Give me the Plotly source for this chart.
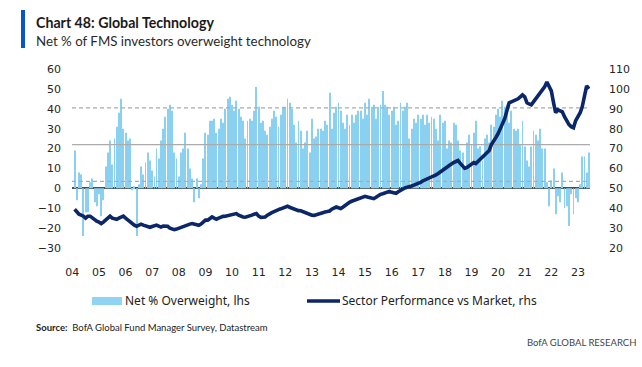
import plotly.graph_objects as go
import pandas as pd

# ---------------- data ----------------
start_month = "2004-02-01"

net_overweight = [
    19, -6, 8, 7, -24, -12, -12, 3, 5, -7, -9, -3,
    -14, -6, 11, 18, 24, 12, 25, 31, 38, 45, 30, 28,
    24, 25, -1, 1, -24, 2, 11, 7, 13, 18, 14, 9,
    6, 20, 15, 24, 30, 36, 40, 42, 39, 18, 15, 6,
    18, 20, 28, 20, 10, 5, -7, 5, -5, 2,
    15, 28, 27, 34, 34, 35, 28, 30, 35, 33,
    40, 45, 46, 42, 39, 44, 40, 36, 34, 25,
    34, 35, 34, 39, 51, 41, 33, 34, 29, 27,
    31, 35, 39, 36, 31, 37, 41, 41, 45, 43,
    40, 32, 23, 34, 29, 20, 23, 29, 18, 35,
    25, 26, 30, 30, 29, 34, 32,
    48, 30, 38, 41, 43, 39, 33, 30, 37, 32,
    37, 33, 37, 39, 39, 35, 43, 37, 45, 41,
    42, 35, 41, 42, 49, 42, 41, 37, 39, 41,
    32, 34, 43, 39, 41, 43, 25, 30, 35, 33,
    37, 35, 37, 32, 37, 33, 36, 35, 30, 24,
    37, 33, 34, 20, 24, 23, 33, 32,
    24, 19, 18, 9, 23, 27, 22, 28, 34, 20,
    21, 14, 25, 27, 23, 32, 31, 37, 40, 36,
    44, 41, 42, 33, 39, 30, 29, 30, 22, 34,
    21, 14, 11, 21, 29, 27, 24, 30, 20, 20,
    3,
    -9, 4, 10, -13, -4, -7, 8, -10, -9, -19,
    -3, -13, -5, -7, 2, 16, 16, 8, 18,
]

sector_perf = [
    39.5, 38, 37, 36.5, 36, 35, 36, 36, 35, 34.3, 33.5, 33,
    32.3, 33, 34, 35, 36, 35, 34.5, 34.4, 35, 35.5, 36, 35,
    34, 33.5, 32.5, 31.5, 30.9, 31.5, 32, 31.5, 31, 30.5, 30.4, 30.8,
    31, 31.5, 31, 30.5, 31, 31, 30.9, 30, 29.5, 29.2, 29.5, 30,
    30.5, 30.5, 31, 31.5, 32, 32.3, 32, 31.5, 31.4, 32, 33, 34,
    34, 35, 35.6, 35, 34.5, 35, 35.5, 35.9, 36, 36.2, 36.4, 36.8,
    37, 37.3, 36.5, 36, 35.6, 35.5, 35.8, 35.9, 36.5, 37, 37.3, 36,
    35.4, 35.5, 35.6, 36.5, 37.3, 37.8, 38.3, 39, 39.3, 39.7, 40.1, 40.5,
    41, 40.5, 40, 39.4, 39, 38.8, 38.7, 38.2, 37.8, 37.3, 37, 36.5,
    36.4, 36.8, 37.2, 37.6, 37.8, 38.1, 38.3, 38.6, 39.5, 40.2, 40.6, 40.2,
    39.8, 40.5, 41.5, 42.3, 43, 43.5, 44, 44.5, 44.8, 45.3, 45.8, 46,
    45.7, 45.4, 45, 44.8, 45.5, 46.5, 47, 47.3, 47.8, 48.2, 48.5, 48,
    47.5, 47.5, 48.3, 49, 49.8, 50.2, 50.5, 50.7, 51.2, 51.6, 52, 52.4,
    53, 53.7, 54.2, 54.4, 55, 55.6, 56, 56.8, 57.5, 58.2, 59, 60,
    60.7, 61.5, 62.4, 63, 63.5, 64, 62.5, 61, 60, 60.5, 61.5, 62.5,
    63, 62.5, 63.5, 64.5, 65.5, 66.5, 67.5, 69, 72, 73.5, 75.5, 77.5,
    80, 82.5, 85, 89, 93, 93.5, 94, 94.5, 95, 96, 97, 96,
    93, 92.5, 92, 93.5, 95, 96.5, 98, 99, 101, 103.5, 101, 99,
    93, 88, 89.5, 89, 88.5, 86, 84, 82, 81, 80.5, 84, 86,
    88, 91, 96, 101.5, 100,
]

ref_levels_lhs = [40.5, 22.0, 3.5]
ref_styles = ["dash", "solid", "dash"]
lhs_range = [-30, 60]
rhs_range = [20, 110]
x_range = ["2003-12-27", "2023-06-16"]
year_ticks = [f"{y}-01-01" for y in range(2004, 2024)]

series_names = ["Net % Overweight, lhs", "Sector Performance vs Market, rhs"]
title_text = "Chart 48: Global Technology"
subtitle_text = "Net % of FMS investors overweight technology"
source_text = "<b>Source:</b>  BofA Global Fund Manager Survey, Datastream"
brand_text = "BofA GLOBAL RESEARCH"

dates = pd.date_range(start_month, periods=len(net_overweight), freq="MS")
assert len(net_overweight) == len(sector_perf)

# ---------------- geometry / style ----------------
W, H = 642, 367
ML, MR, MT, MB = 72, 52, 69, 119
PW, PH = W - ML - MR, H - MT - MB

def px2x(px):
    return (px - ML) / PW

def px2y(py):
    return (H - MB - py) / PH

BAR_COLOR = "#8ad0f0"
LINE_COLOR = "#0b2769"
REF_COLOR = "#ababab"
TICK_FONT = dict(family="DejaVu Sans", size=11, color="#262626")

fig = go.Figure()

fig.add_trace(go.Bar(
    x=dates, y=net_overweight, name=series_names[0],
    marker=dict(color=BAR_COLOR, line=dict(width=0)),
    showlegend=False, hoverinfo="x+y",
))

for lvl, sty in zip(ref_levels_lhs, ref_styles):
    fig.add_trace(go.Scatter(
        x=x_range, y=[lvl, lvl], mode="lines",
        line=dict(color=REF_COLOR, width=1.2,
                  dash="4px,3px" if sty == "dash" else "solid"),
        showlegend=False, hoverinfo="skip",
    ))

fig.add_trace(go.Scatter(
    x=dates, y=sector_perf, name=series_names[1], yaxis="y2",
    mode="lines", line=dict(color=LINE_COLOR, width=3.6),
    showlegend=False,
))

fig.update_layout(
    width=W, height=H,
    margin=dict(l=ML, r=MR, t=MT, b=MB, pad=0),
    paper_bgcolor="white", plot_bgcolor="white",
    bargap=0.55,
    showlegend=False,
    xaxis=dict(
        type="date", range=x_range, tickvals=year_ticks, tickformat="%y",
        showgrid=False, zeroline=False, showline=False, ticks="",
        tickfont=TICK_FONT, ticklabelstandoff=16,
    ),
    yaxis=dict(
        range=lhs_range, dtick=10, tick0=0, showgrid=False,
        zeroline=True, zerolinecolor="#4d4d4d", zerolinewidth=1.5,
        showline=False, ticks="", tickfont=TICK_FONT, ticklabelstandoff=10,
    ),
    yaxis2=dict(
        range=rhs_range, dtick=10, tick0=20, overlaying="y", side="right",
        showgrid=False, zeroline=False, showline=False, ticks="",
        tickfont=TICK_FONT, ticklabelstandoff=18,
    ),
)

shapes = [
    # title accent bar
    dict(type="rect", xref="paper", yref="paper",
         x0=px2x(21), x1=px2x(25), y0=px2y(48), y1=px2y(10),
         fillcolor="#0a55c5", line=dict(width=0)),
    # legend swatches
    dict(type="rect", xref="paper", yref="paper",
         x0=px2x(92), x1=px2x(122), y0=px2y(305), y1=px2y(297),
         fillcolor="#8fd4f3", line=dict(width=0)),
    dict(type="line", xref="paper", yref="paper",
         x0=px2x(307), x1=px2x(340), y0=px2y(301), y1=px2y(301),
         line=dict(color=LINE_COLOR, width=3.5)),
]
fig.update_layout(shapes=shapes)

def ann(text, px, py, size, family, color, xanchor="left", bold=False):
    return dict(text=(f"<b>{text}</b>" if bold else text),
                x=px2x(px), y=px2y(py), xref="paper", yref="paper",
                xanchor=xanchor, yanchor="middle", showarrow=False,
                font=dict(size=size, family=family, color=color))

annotations = [
    ann(title_text, 34, 22, 14.2, "Lato", "#1a1a1a", bold=True),
    ann(subtitle_text, 34, 41, 13.3, "Lato", "#2a2a2a"),
    ann(series_names[0], 123, 300, 12, "Noto Sans", "#222"),
    ann(series_names[1], 340, 300, 12, "Noto Sans", "#222"),
    ann(source_text, 34, 327, 9.5, "Lato", "#222"),
    ann(brand_text, 638, 342, 9.5, "Lato", "#444", xanchor="right"),
]
fig.update_layout(annotations=annotations)

fig.write_html("out.html", config={"displayModeBar": False},
               post_script="document.body.style.margin='0';")
